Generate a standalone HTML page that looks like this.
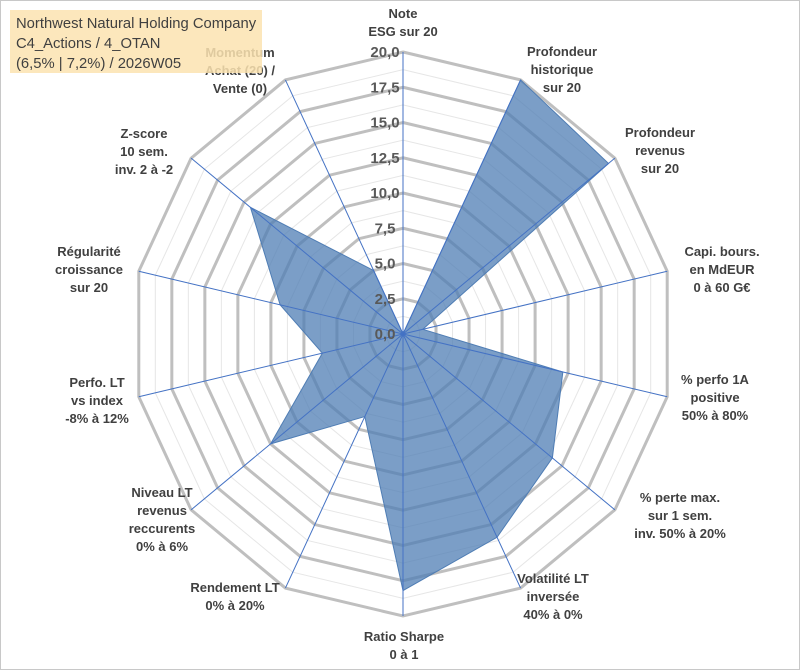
<!DOCTYPE html>
<html><head><meta charset="utf-8"><style>
body{margin:0;background:#fff;}
#wrap{position:relative;width:801px;height:671px;overflow:hidden;font-family:"Liberation Sans",sans-serif;}
svg text{font-family:"Liberation Sans",sans-serif;font-weight:bold;font-size:13px;fill:#404040;}
</style></head><body>
<div id="wrap">
<svg id="chart" width="801" height="671">
<rect x="0.5" y="0.5" width="799" height="669" fill="#fff" stroke="#c8c8c8"/>
<g id="grid"></g><g id="series"></g><g id="spokes"></g><g id="ticks"></g><g id="labels"></g>
<rect x="10" y="10" width="252" height="63" fill="#fbe3b0" fill-opacity="0.85"/>
<text x="16" y="28" style="font-size:14.8px;font-weight:normal">Northwest Natural Holding Company</text>
<text x="16" y="48" style="font-size:14.8px;font-weight:normal">C4_Actions / 4_OTAN</text>
<text x="16" y="68" style="font-size:14.8px;font-weight:normal">(6,5% | 7,2%) / 2026W05</text>
</svg>
</div>
<script>
const categories=[["Note","ESG sur 20"],["Profondeur","historique","sur 20"],["Profondeur","revenus","sur 20"],["Capi. bours.","en MdEUR","0 à 60 G€"],["% perfo 1A","positive","50% à 80%"],["% perte max.","sur 1 sem.","inv. 50% à 20%"],["Volatilité LT","inversée","40% à 0%"],["Ratio Sharpe","0 à 1"],["Rendement LT","0% à 20%"],["Niveau LT","revenus","reccurents","0% à 6%"],["Perfo. LT","vs index","-8% à 12%"],["Régularité","croissance","sur 20"],["Z-score","10 sem.","inv. 2 à -2"],["Momentum","Achat (20) /","Vente (0)"]];
const values=[0,20,19.4,1.5,12.1,14.1,16,18.2,6.5,12.5,6.1,9.3,14.4,5];
const tickLabels=["0,0","2,5","5,0","7,5","10,0","12,5","15,0","17,5","20,0"];
const maxV=20;
const NS="http://www.w3.org/2000/svg";
const cx=403,cy=334,RX=271,RY=282,N=categories.length;
const labelPos=[[403,18],[562,56],[660,137],[722,256],[715,384],[680,502],[553,583],[404,641],[235,592],[162,497],[97,387],[89,256],[144,138],[240,57]];
function ang(i){return -Math.PI/2+i*2*Math.PI/N;}
function px(i,v){return cx+Math.cos(ang(i))*v/maxV*RX;}
function py(i,v){return cy+Math.sin(ang(i))*v/maxV*RY;}
function mk(t,a,p){const e=document.createElementNS(NS,t);for(const k in a)e.setAttribute(k,a[k]);p.appendChild(e);return e;}
const grid=document.getElementById('grid');
for(let k=1;k<=16;k++){const v=k*1.25;const pts=[];for(let i=0;i<N;i++)pts.push(px(i,v)+','+py(i,v));
const major=k%2==0;
const e=mk('polygon',{points:pts.join(' '),fill:'none',stroke:major?'#bfbfbf':'#e6e6e6','stroke-width':major?3:1},grid);

}
const s=document.getElementById('series');
const pts=values.map((v,i)=>px(i,v)+','+py(i,v)).join(' ');
const poly=mk('polygon',{points:pts,fill:'#4f7db4','fill-opacity':0.75,stroke:'#4f7db4','stroke-width':1},s);


const sp=document.getElementById('spokes');
for(let i=0;i<N;i++){const l=mk('line',{x1:cx,y1:cy,x2:px(i,maxV),y2:py(i,maxV),stroke:'#4472c4','stroke-width':1},sp);

}
const tk=document.getElementById('ticks');
tickLabels.forEach((t,k)=>{const e=mk('text',{x:cx-18,y:py(0,k*2.5)+5,'text-anchor':'middle',style:'font-size:15px;fill:#595959'},tk);e.textContent=t;

});
const lb=document.getElementById('labels');
categories.forEach((lines,i)=>{const x=labelPos[i][0],y0=labelPos[i][1];
const t=mk('text',{x:x,y:y0,'text-anchor':'middle'},lb);


lines.forEach((ln,j)=>{const ts=mk('tspan',{x:x,y:y0+j*18},t);ts.textContent=ln;});});
</script>
</body></html>
